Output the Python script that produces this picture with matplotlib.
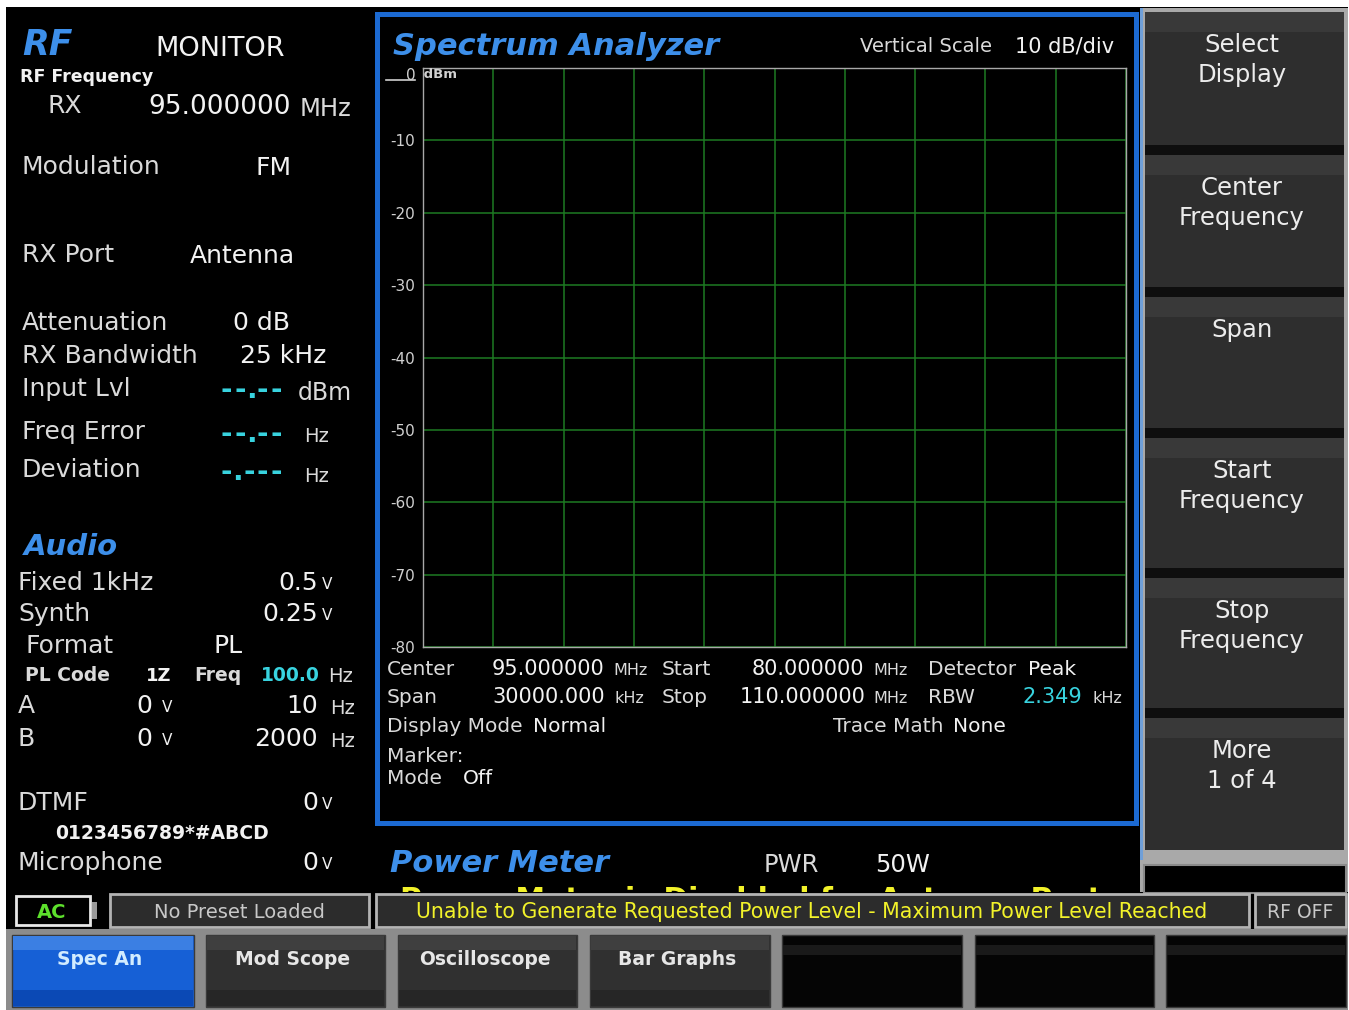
import matplotlib
matplotlib.use("Agg")
import matplotlib.pyplot as plt
from matplotlib.patches import Rectangle
import numpy as np

W, H = 1349, 1010

# ---------------- data ----------------
y_ticks_dbm = [0, -10, -20, -30, -40, -50, -60, -70, -80]
freq_start_mhz = 80.0
freq_stop_mhz = 110.0
freq_divisions = 10
center_mhz = 95.0
span_khz = 30000.0
rbw_khz = 2.349
vertical_scale = "10 dB/div"

rx_freq_mhz = 95.0
modulation = "FM"
rx_port = "Antenna"
attenuation_db = 0
rx_bandwidth_khz = 25

audio_labels = ["Fixed 1kHz", "Synth"]
audio_levels_v = ["0.5", "0.25"]
pl_code = "1Z"
pl_freq_hz = 100.0
a_level, a_freq = "0", "10"
b_level, b_freq = "0", "2000"
dtmf_level = "0"
mic_level = "0"

softkeys = [["Select", "Display"], ["Center", "Frequency"], ["Span"],
            ["Start", "Frequency"], ["Stop", "Frequency"], ["More", "1 of 4"]]
tabs = ["Spec An", "Mod Scope", "Oscilloscope", "Bar Graphs", "", "", ""]
status_msg = "Unable to Generate Requested Power Level - Maximum Power Level Reached"

# ---------------- colours ----------------
BLUE_T = "#3d8fea"
CYAN = "#38d3df"
LBL = "#dadada"
VAL = "#f2f2f2"
YEL = "#f2f22a"

fig = plt.figure(figsize=(W / 100, H / 100), dpi=100)
fig.patch.set_facecolor("white")
ui = fig.add_axes([0, 0, 1, 1])
ui.set_xlim(0, W)
ui.set_ylim(H, 0)
ui.axis("off")


def rect(x0, y0, x1, y1, fc, ec="none", lw=0, z=1, **kw):
    r = Rectangle((x0, y0), x1 - x0, y1 - y0, facecolor=fc, edgecolor=ec,
                  linewidth=lw, zorder=z, **kw)
    ui.add_patch(r)
    return r


def T(x, y, s, size, color=LBL, weight="normal", style="normal", ha="left", z=5):
    return ui.text(x, y, s, fontsize=size, color=color, fontweight=weight,
                   fontstyle=style, ha=ha, va="baseline", zorder=z,
                   family="DejaVu Sans")


# background
rect(6, 7, 1348, 1010, "black", z=0)

# ---------------- left panel ----------------
LS = 18  # main label size
T(22, 55, "RF", 25, BLUE_T, "bold", "italic")
T(155, 56, "MONITOR", 19.5, VAL)
T(20, 82, "RF Frequency", 12.5, VAL, "bold")
T(47, 113, "RX", LS, LBL)
T(148, 114, f"{rx_freq_mhz:.6f}", 19, VAL)
T(300, 116, "MHz", 17.5, LBL)
T(22, 174, "Modulation", LS, LBL)
T(255, 175, modulation, LS, VAL)
T(22, 262, "RX Port", LS, LBL)
T(190, 263, rx_port, LS, VAL)
T(22, 330, "Attenuation", LS, LBL)
T(233, 330, f"{attenuation_db} dB", LS, VAL)
T(22, 363, "RX Bandwidth", LS, LBL)
T(240, 363, f"{rx_bandwidth_khz} kHz", LS, VAL)
T(22, 396, "Input Lvl", LS, LBL)
T(298, 400, "dBm", 17, LBL)
T(22, 439, "Freq Error", LS, LBL)
T(304, 442, "Hz", 14, LBL)
T(22, 477, "Deviation", LS, LBL)
T(304, 482, "Hz", 14, LBL)


def dashes(x0, yc, pattern):
    # unknown readings shown as cyan dash placeholders
    x = x0
    for ch in pattern:
        if ch == "-":
            ui.text(x, yc + 8.5, "-", fontsize=20, color=CYAN, fontweight="bold",
                    va="baseline", ha="left", zorder=5)
            x += 13.5
        else:
            ui.text(x - 2, yc + 8.5, ".", fontsize=20, color=CYAN, fontweight="bold",
                    va="baseline", ha="left", zorder=5)
            x += 9


dashes(221, 390, "--.--")
dashes(221, 433, "--.--")
dashes(221, 472, "-.---")

T(24, 555, "Audio", 21, BLUE_T, "bold", "italic")
for i, (lab, lev) in enumerate(zip(audio_labels, audio_levels_v)):
    yb = [590, 621][i]
    T(18, yb, lab, LS, LBL)
    T(318, yb, lev, LS, VAL, ha="right")
    T(322, yb - 1, "V", 11, VAL)
T(25, 653, "Format", LS, LBL)
T(214, 653, "PL", LS, VAL)
T(25, 681, "PL Code", 13.5, LBL, "bold")
T(146, 681, pl_code, 13, VAL, "bold")
T(194, 681, "Freq", 13.5, LBL, "bold")
T(261, 681, f"{pl_freq_hz:.1f}", 13.5, CYAN, "bold")
T(328, 682, "Hz", 14, LBL)
for yb, lab, lev, fr in [(713, "A", a_level, a_freq), (746, "B", b_level, b_freq)]:
    T(18, yb, lab, LS, LBL)
    T(136, yb, lev, LS, VAL)
    T(162, yb - 1, "V", 11, VAL)
    T(318, yb, fr, LS, VAL, ha="right")
    T(330, yb + 1, "Hz", 14, LBL)
T(18, 810, "DTMF", LS, LBL)
T(318, 810, dtmf_level, LS, VAL, ha="right")
T(322, 809, "V", 11, VAL)
T(55, 839, "0123456789*#ABCD", 13.5, VAL, "bold")
T(18, 870, "Microphone", LS, LBL)
T(318, 870, mic_level, LS, VAL, ha="right")
T(322, 869, "V", 11, VAL)

# ---------------- spectrum analyzer panel ----------------
rect(377, 13.5, 1135.5, 822.5, "none", "#1c6ad2", 3.6, z=2)
T(393, 55, "Spectrum Analyzer", 22, BLUE_T, "bold", "italic")
T(860, 52, "Vertical Scale", 14, LBL)
T(1015, 52, vertical_scale, 15, VAL)

ax = fig.add_axes([423 / W, 1 - 647 / H, (1126 - 423) / W, (647 - 68) / H])
ax.set_facecolor("black")
ax.set_xlim(freq_start_mhz, freq_stop_mhz)
ax.set_ylim(min(y_ticks_dbm), max(y_ticks_dbm))
ax.set_xticks(np.linspace(freq_start_mhz, freq_stop_mhz, freq_divisions + 1))
ax.set_xticklabels([])
ax.set_yticks(y_ticks_dbm[1:])
ax.set_yticklabels([str(v) for v in y_ticks_dbm[1:]], color="#d0d0d0",
                   fontsize=11)
ax.tick_params(length=0, pad=6)
ax.grid(True, color="#1d7a22", linewidth=1.1)
for s in ax.spines.values():
    s.set_color("#a8a8a8")
    s.set_linewidth(1)
ax.text(-0.01, 1.0, "0", transform=ax.transAxes, ha="right", va="top",
        fontsize=11, color="#d0d0d0")
ax.text(-0.006, 1.0, " dBm", transform=ax.transAxes, ha="left", va="top",
        fontsize=9.5, color="#d0d0d0", fontweight="bold")
ui.plot([386, 415], [80, 80], color="#d0d0d0", lw=1.2, zorder=5)

# info rows
T(387, 675, "Center", 14.5, LBL)
T(492, 675, f"{center_mhz:.6f}", 15, VAL)
T(613, 675, "MHz", 11.5, LBL)
T(662, 675, "Start", 14.5, LBL)
T(752, 675, f"{freq_start_mhz:.6f}", 15, VAL)
T(873, 675, "MHz", 11.5, LBL)
T(928, 675, "Detector", 14.5, LBL)
T(1028, 675, "Peak", 14.5, VAL)
T(387, 703, "Span", 14.5, LBL)
T(492, 703, f"{span_khz:.3f}", 15, VAL)
T(614, 703, "kHz", 11.5, LBL)
T(662, 703, "Stop", 14.5, LBL)
T(740, 703, f"{freq_stop_mhz:.6f}", 15, VAL)
T(873, 703, "MHz", 11.5, LBL)
T(928, 703, "RBW", 14.5, LBL)
T(1023, 703, f"{rbw_khz:.3f}", 15, CYAN)
T(1093, 703, "kHz", 11.5, LBL)
T(387, 732, "Display Mode", 14.5, LBL)
T(533, 732, "Normal", 14.5, VAL)
T(833, 732, "Trace Math", 14.5, LBL)
T(953, 732, "None", 14.5, VAL)
T(387, 762, "Marker:", 14.5, LBL)
T(387, 784, "Mode", 14.5, LBL)
T(463, 784, "Off", 14.5, VAL)

# ---------------- power meter ----------------
T(390, 872, "Power Meter", 22, BLUE_T, "bold", "italic")
T(764, 872, "PWR", 17.5, LBL)
T(875, 872, "50W", 17.5, VAL)
# message partly hidden behind the status bar
ytxt = ui.text(400, 909, "Power Meter is Disabled for Antenna Port", fontsize=21.5,
               color=YEL, fontweight="bold", ha="left", va="baseline", zorder=0.5)
clip = Rectangle((380, 870), 800, 22, transform=ui.transData)
ytxt.set_clip_path(clip)
ytxt.set_clip_on(True)

# ---------------- softkeys ----------------
rect(1140, 8, 1348, 894, "#a9a9a9", z=1)
rect(1140, 8, 1143, 860, "#6f9fd8", z=1.5)
btn_tops = [12, 155, 297, 438, 578, 718]
btn_bots = [155, 297, 438, 578, 718, 850]
for i, lines in enumerate(softkeys):
    t, b = btn_tops[i], btn_bots[i]
    rect(1145, t, 1344, b, "#2e2e2e", z=2)
    rect(1145, t, 1344, t + 20, "#393939", z=2.1)
    if i < 5:
        rect(1145, b - 10, 1344, b, "#0e0e0e", z=2.1)
    yb = t + 40
    for j, ln in enumerate(lines):
        ui.text(1242, yb + 30 * j, ln, fontsize=17.5, color="#ececec",
                ha="center", va="baseline", zorder=5)
rect(1144, 865, 1346, 893, "black", "#8a8a8a", 1.5, z=2)

# ---------------- status bar ----------------
rect(6, 892, 1348, 930, "black", z=1)
rect(16, 896, 90, 925, "black", "#e8e8e8", 2, z=2)
rect(92, 902, 97, 919, "#9a9a9a", z=2)
ui.text(52, 918, "AC", fontsize=14, color="#5de02c", fontweight="bold",
        ha="center", va="baseline", zorder=5)
rect(110, 894, 369, 927, "#2c2c2c", "#b4b4b4", 2, z=2)
ui.text(239, 918, "No Preset Loaded", fontsize=14, color="#c8c8c8",
        ha="center", va="baseline", zorder=5)
rect(376, 894, 1249, 927, "#2c2c2c", "#b4b4b4", 2, z=2)
ui.text(812, 918, status_msg, fontsize=14.8, color=YEL,
        ha="center", va="baseline", zorder=5)
rect(1255, 894, 1346, 927, "#2c2c2c", "#b4b4b4", 2, z=2)
ui.text(1300, 918, "RF OFF", fontsize=13.5, color="#c8c8c8",
        ha="center", va="baseline", zorder=5)

# ---------------- tabs ----------------
rect(6, 929, 1348, 1010, "#8c8c8c", z=1)
tab_x = [(12, 194), (206, 385), (398, 577), (590, 770), (782, 962),
         (975, 1154), (1166, 1346)]
for i, (lab, (x0, x1)) in enumerate(zip(tabs, tab_x)):
    if i == 0:
        body, top, bot, tc = "#1660d6", "#3b7fe3", "#0b49b5", "#d2ecff"
    elif lab:
        body, top, bot, tc = "#303030", "#3f3f3f", "#262626", "#e6e6e6"
    else:
        body, top, bot, tc = "#050505", "#1a1a1a", "#050505", "#e6e6e6"
    rect(x0, 935, x1, 1007, body, "#3a3a3a", 1, z=2)
    if lab:
        rect(x0 + 1, 936, x1 - 1, 950, top, z=2.1)
        rect(x0 + 1, 990, x1 - 1, 1006, bot, z=2.1)
    else:
        rect(x0 + 1, 945, x1 - 1, 955, top, z=2.1)
    if lab:
        ui.text((x0 + x1) / 2 - 3, 965, lab, fontsize=13.5, color=tc,
                fontweight="bold", ha="center", va="baseline", zorder=5)

fig.savefig("out.png", dpi=100, facecolor=fig.get_facecolor())
